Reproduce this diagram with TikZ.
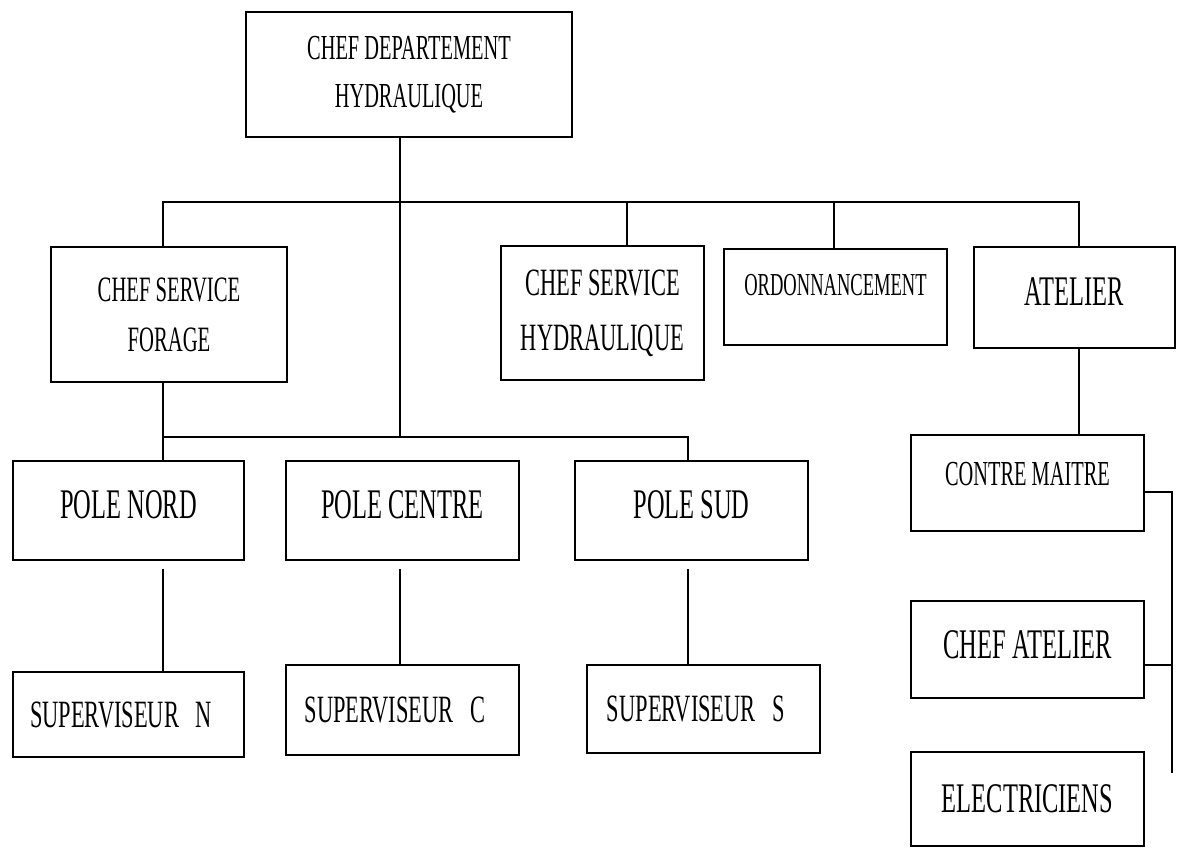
\documentclass[tikz,border=0pt]{standalone}
\usepackage{fontspec}
\setmainfont{Liberation Serif}[FakeStretch=0.58]
\newcommand{\orgfont}[2]{\fontsize{#1}{#2}\selectfont}

\begin{document}
\begin{tikzpicture}[x=0.02cm,y=-0.02cm,
  obox/.style={draw,line width=1.2pt,align=center,inner sep=1pt},
  link/.style={line width=0.9pt},
  bigtxt/.style={font=\orgfont{24}{30},text height=15.9pt,text depth=#1},
  bigtxt/.default=0pt,
  suptxt/.style={font=\orgfont{22}{27},text height=14.6pt,text depth=0pt}]
  \useasboundingbox (0,0) rectangle (1179,848);

  % top level and first row
  \node[obox,minimum width=6.52cm,minimum height=2.5cm,font=\orgfont{20}{27.3}] (chef) at (409,74.5)
    {CHEF DEPARTEMENT\\HYDRAULIQUE};
  \node[obox,minimum width=4.72cm,minimum height=2.7cm,font=\orgfont{20.3}{28.4}] (forage) at (169,314.5)
    {CHEF SERVICE\\FORAGE};
  \node[obox,minimum width=4.06cm,minimum height=2.68cm,font=\orgfont{22}{31.3}] (hydro) at (602.5,313)
    {CHEF SERVICE\\HYDRAULIQUE};
  \node[obox,minimum width=4.46cm,minimum height=1.92cm,font=\orgfont{18.2}{22},
        text height=12pt,text depth=0.48cm] (ordo) at (835.5,297) {ORDONNANCEMENT};
  \node[obox,minimum width=4.02cm,minimum height=2.02cm,bigtxt=0.22cm] (atelier) at (1074.5,297.5) {ATELIER};

  % atelier column
  \node[obox,minimum width=4.66cm,minimum height=1.92cm,font=\orgfont{20}{24},
        text height=13.2pt,text depth=0.36cm] (contre) at (1027.5,483) {CONTRE MAITRE};
  \node[obox,minimum width=4.66cm,minimum height=1.94cm,bigtxt=0.18cm] (chefat) at (1027.5,649.5) {CHEF ATELIER};
  \node[obox,minimum width=4.66cm,minimum height=1.88cm,bigtxt] (elec) at (1027.5,799) {ELECTRICIENS};

  % poles
  \node[obox,minimum width=4.62cm,minimum height=1.98cm,bigtxt=0.22cm] (nord) at (128.5,510.5) {POLE NORD};
  \node[obox,minimum width=4.66cm,minimum height=1.98cm,bigtxt=0.22cm] (centre) at (402.5,510.5) {POLE CENTRE};
  \node[obox,minimum width=4.66cm,minimum height=1.98cm,bigtxt=0.22cm] (sud) at (691.5,510.5) {POLE SUD};

  % supervisors
  \node[obox,minimum width=4.62cm,minimum height=1.7cm,suptxt] (supN) at (128.5,714.5) {SUPERVISEUR\ \ \ N\hspace{0.3cm}};
  \node[obox,minimum width=4.66cm,minimum height=1.8cm,suptxt] (supC) at (402.5,710) {SUPERVISEUR\ \ \ C\hspace{0.3cm}};
  \node[obox,minimum width=4.66cm,minimum height=1.76cm,suptxt] (supS) at (703.5,709) {SUPERVISEUR\ \ \ S\hspace{0.3cm}};

  % bus points
  \coordinate (trunk) at (400,437);
  \coordinate (busL) at (163,202);
  \coordinate (busR) at (1079,202);
  \coordinate (dHyd) at (627,202);
  \coordinate (dOrd) at (834,202);
  \coordinate (midL) at (163,437);
  \coordinate (midR) at (688,437);
  \coordinate (brk) at (1172,773);

  \draw[link] (chef.south -| trunk) -- (trunk);
  \draw[link] (busL |- forage.north) -- (busL) -- (busR) -- (busR |- atelier.north);
  \draw[link] (dHyd) -- (dHyd |- hydro.north);
  \draw[link] (dOrd) -- (dOrd |- ordo.north);
  \draw[link] (midL |- forage.south) -- (midL |- nord.north);
  \draw[link] (midL) -- (midR) -- (midR |- sud.north);
  \draw[link,shorten <=0.16cm] (midL |- nord.south) -- (midL |- supN.north);
  \draw[link,shorten <=0.16cm] (trunk |- centre.south) -- (trunk |- supC.north);
  \draw[link,shorten <=0.16cm] (midR |- sud.south) -- (midR |- supS.north);
  \draw[link] (busR |- atelier.south) -- (busR |- contre.north);
  \draw[link] ([yshift=-0.18cm]contre.east) -| (brk);
  \draw[link] ([yshift=-0.31cm]chefat.east) -- ++(28,0);
\end{tikzpicture}
\end{document}
